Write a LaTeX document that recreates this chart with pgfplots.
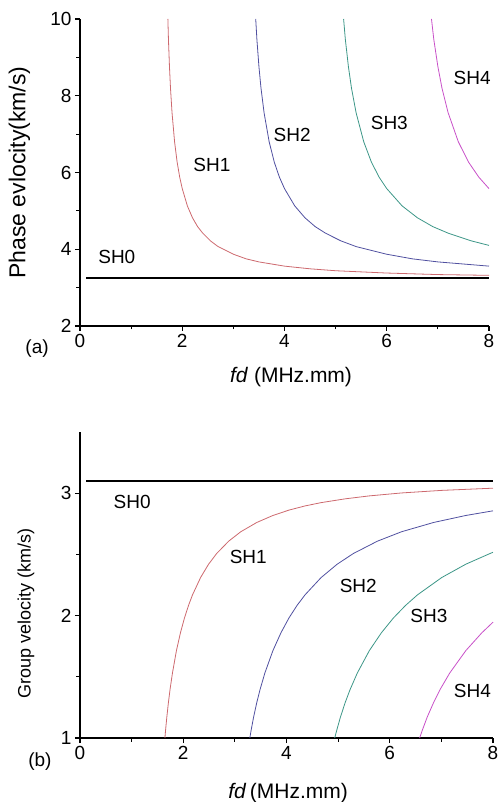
\documentclass[border=0pt]{standalone}
\usepackage{pgfplots}
\pgfplotsset{compat=1.18}
\usepackage{fontspec}
\setmainfont{Liberation Sans}
\definecolor{cSHa}{RGB}{205,105,110}
\definecolor{cSHb}{RGB}{80,80,160}
\definecolor{cSHc}{RGB}{60,150,135}
\definecolor{cSHd}{RGB}{200,80,200}
\pgfplotsset{
  panel/.style={
    scale only axis, xmin=0, xmax=8,
    axis x line=bottom, axis y line=left, axis line style={-, line width=1.2pt},
    tick align=outside, major tick length=5pt, minor tick length=3.5pt,
    every tick/.style={black, line width=1.1pt},
    xtick={0,2,4,6,8}, minor xtick={1,3,5,7},
    /pgf/number format/assume math mode=true,
    tick label style={font=\fontsize{19}{19}\selectfont},
    clip=false,
  },
}
\tikzset{sh/.style={font=\fontsize{19}{19}\selectfont, anchor=center}}
\begin{document}
\begin{tikzpicture}
\path[use as bounding box] (-80pt,-64pt) rectangle (418pt,738pt);
% (b) group velocity
\begin{axis}[panel, at={(0pt,0pt)}, anchor=origin, width=413pt, height=306pt,
  ymin=1, ymax=3.5, ytick={1,2,3}, minor ytick={1.5,2.5},
  xlabel={\textit{fd}\,(MHz.mm)}, ylabel={Group velocity (km/s)},
  xlabel style={font=\fontsize{21}{21}\selectfont, at={(axis description cs:0.504,-0.18)}, anchor=center},
  ylabel style={font=\fontsize{18}{18}\selectfont, at={(axis description cs:-0.131,0.408)}, anchor=center}]
\addplot[black, line width=1.1pt] coordinates {(0.12,3.1) (8,3.1)};
\addplot[cSHa, line width=0.8pt] coordinates {(1.645,1.000)(1.658,1.066)(1.682,1.171)(1.713,1.291)(1.744,1.396)(1.791,1.531)(1.868,1.714)(1.946,1.860)(2.024,1.981)(2.102,2.083)(2.180,2.170)(2.336,2.311)(2.491,2.420)(2.647,2.507)(2.880,2.608)(3.114,2.685)(3.425,2.761)(3.737,2.818)(4.048,2.862)(4.360,2.896)(4.671,2.923)(5.138,2.954)(5.605,2.978)(6.228,3.002)(7.007,3.023)(8.0,3.041)};
\addplot[cSHb, line width=0.8pt] coordinates {(3.290,1.000)(3.316,1.066)(3.363,1.171)(3.425,1.291)(3.488,1.396)(3.581,1.531)(3.737,1.714)(3.893,1.860)(4.048,1.981)(4.204,2.083)(4.360,2.170)(4.671,2.311)(4.982,2.420)(5.294,2.507)(5.761,2.608)(6.228,2.685)(6.851,2.761)(7.474,2.818)(8.0,2.856)};
\addplot[cSHc, line width=0.8pt] coordinates {(4.934,1.000)(4.975,1.066)(5.045,1.171)(5.138,1.291)(5.232,1.396)(5.372,1.531)(5.605,1.714)(5.839,1.860)(6.072,1.981)(6.306,2.083)(6.539,2.170)(7.007,2.311)(7.474,2.420)(7.941,2.507)(8.0,2.517)};
\addplot[cSHd, line width=0.8pt] coordinates {(6.579,1.000)(6.633,1.066)(6.726,1.171)(6.851,1.291)(6.975,1.396)(7.162,1.531)(7.474,1.714)(7.785,1.860)(8.0,1.946)};
\node[sh] at (axis cs:1.01,2.93) {SH0};
\node[sh] at (axis cs:3.26,2.48) {SH1};
\node[sh] at (axis cs:5.39,2.24) {SH2};
\node[sh] at (axis cs:6.76,2.00) {SH3};
\node[sh] at (axis cs:7.60,1.385) {SH4};
\node[sh] at (axis description cs:-0.097,-0.078) {(b)};
\end{axis}
% (a) phase velocity
\begin{axis}[panel, at={(0pt,412pt)}, anchor=origin, width=409pt, height=307pt,
  ymin=2, ymax=10, ytick={2,4,6,8,10}, minor ytick={3,5,7,9},
  xlabel={\textit{fd} (MHz.mm)}, ylabel={Phase evlocity(km/s)},
  xlabel style={font=\fontsize{21}{21}\selectfont, at={(axis description cs:0.516,-0.166)}, anchor=center},
  ylabel style={font=\fontsize{23}{23}\selectfont, at={(axis description cs:-0.148,0.5)}, anchor=center}]
\addplot[black, line width=1.1pt] coordinates {(0.12,3.25) (8,3.25)};
\addplot[cSHa, line width=0.8pt] coordinates {(1.719,10.00)(1.73,9.47)(1.75,8.76)(1.77,8.20)(1.8,7.56)(1.85,6.80)(1.9,6.27)(1.95,5.88)(2.0,5.58)(2.1,5.13)(2.2,4.82)(2.3,4.59)(2.4,4.42)(2.55,4.22)(2.7,4.07)(3.0,3.87)(3.25,3.75)(3.5,3.67)(4.0,3.56)(4.5,3.49)(5.0,3.44)(6.0,3.38)(7.0,3.34)(8.0,3.32)};
\addplot[cSHb, line width=0.8pt] coordinates {(3.437,10.00)(3.46,9.47)(3.5,8.76)(3.54,8.20)(3.6,7.56)(3.7,6.80)(3.8,6.27)(3.9,5.88)(4.0,5.58)(4.2,5.13)(4.4,4.82)(4.6,4.59)(4.8,4.42)(5.1,4.22)(5.4,4.07)(6.0,3.87)(6.5,3.75)(7.0,3.67)(8.0,3.56)};
\addplot[cSHc, line width=0.8pt] coordinates {(5.156,10.00)(5.19,9.47)(5.25,8.76)(5.31,8.20)(5.4,7.56)(5.55,6.80)(5.7,6.27)(5.85,5.88)(6.0,5.58)(6.3,5.13)(6.6,4.82)(6.9,4.59)(7.2,4.42)(7.65,4.22)(8.0,4.10)};
\addplot[cSHd, line width=0.8pt] coordinates {(6.875,10.00)(6.92,9.47)(7.0,8.76)(7.08,8.20)(7.2,7.56)(7.4,6.80)(7.6,6.27)(7.8,5.88)(8.0,5.58)};
\node[sh] at (axis cs:0.72,3.80) {SH0};
\node[sh] at (axis cs:2.58,6.19) {SH1};
\node[sh] at (axis cs:4.15,6.97) {SH2};
\node[sh] at (axis cs:6.05,7.29) {SH3};
\node[sh] at (axis cs:7.67,8.46) {SH4};
\node[sh] at (axis description cs:-0.105,-0.072) {(a)};
\end{axis}
\end{tikzpicture}
\end{document}
